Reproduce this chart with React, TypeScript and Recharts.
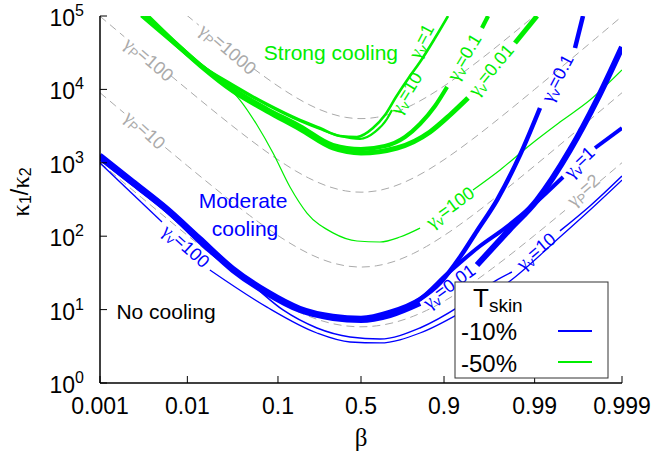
import React from 'react';
import { LineChart, Line, XAxis, YAxis, ReferenceDot } from 'recharts';

const BLUE = '#0000ff';
const GREEN = '#00ee00';
const GRAY = '#aaaaaa';
const SANS = '"Liberation Sans", Arial, Helvetica, sans-serif';
const SERIF = '"Liberation Serif", "Times New Roman", serif';

// ---- axis ticks ----
const xTickBetas = [0.001, 0.01, 0.1, 0.5, 0.9, 0.99, 0.999];
const xTickLabels = ['0.001', '0.01', '0.1', '0.5', '0.9', '0.99', '0.999'];
const yTicks = [1, 10, 100, 1000, 10000, 100000];
const yTickExponents = ['0', '1', '2', '3', '4', '5'];

// ---- gamma_P iso-curves (grey dashed): [beta, kappa1/kappa2] ----
const gp2A = [[0.001, 1003], [0.002, 503], [0.003, 336], [0.005, 203], [0.01, 103], [0.02, 53], [0.03, 36.4], [0.05, 23], [0.1, 13], [0.15, 9.74], [0.2, 8.13], [0.3, 6.61], [0.4, 6.0], [0.5, 5.83], [0.6, 6.0], [0.7, 6.61], [0.8, 8.13], [0.85, 9.74], [0.9, 13], [0.95, 23], [0.97, 36.4], [0.98, 53], [0.99, 103], [0.995, 203], [0.9955, 225]];
const gp2B = [[0.9982, 558], [0.999, 1003]];
const gp10A = [[0.001, 9011], [0.0015, 6011], [0.0019, 4749]];
const gp10B = [[0.0056, 1618], [0.01, 911], [0.02, 461], [0.03, 311], [0.05, 191], [0.1, 102], [0.15, 72.6], [0.2, 58.2], [0.3, 44.8], [0.4, 39.5], [0.5, 38], [0.6, 39.5], [0.7, 44.8], [0.8, 58.2], [0.85, 72.6], [0.9, 102], [0.95, 191], [0.97, 311], [0.98, 461], [0.99, 911], [0.995, 1811], [0.997, 3011], [0.998, 4511], [0.999, 9011]];
const gp100A = [[0.001, 99100], [0.0015, 66100], [0.0019, 52200]];
const gp100B = [[0.0065, 15330], [0.01, 10000], [0.02, 5050], [0.03, 3400], [0.05, 2085], [0.1, 1102], [0.15, 778], [0.2, 621], [0.3, 473], [0.4, 414], [0.5, 398], [0.6, 414], [0.7, 473], [0.8, 621], [0.85, 778], [0.9, 1102], [0.95, 2085], [0.97, 3400], [0.98, 5050], [0.99, 10000], [0.995, 19900], [0.997, 33100], [0.998, 49600], [0.999, 99100]];
const gp1000A = [[0.0098, 102900], [0.0115, 87900], [0.0135, 75000]];
const gp1000B = [[0.055, 19220], [0.07, 15350], [0.1, 11100], [0.15, 7840], [0.2, 6240], [0.3, 4760], [0.4, 4160], [0.5, 4000], [0.6, 4160], [0.7, 4760], [0.8, 6240], [0.85, 7840], [0.9, 11100], [0.93, 15350], [0.95, 21030], [0.97, 34300], [0.98, 51000], [0.99, 100900]];

// ---- Tskin -10% (blue) ----
const blue001A = [[0.001, 1200], [0.00239, 531], [0.00586, 228], [0.0139, 88.8], [0.0327, 34.6], [0.0767, 16.8], [0.166, 9.88], [0.3226, 7.69], [0.5, 7.22], [0.6828, 8.44], [0.8265, 12.3]];
const blue001B = [[0.9556, 40.5], [0.9805, 121], [0.99061, 311], [0.99605, 1490], [0.99806, 7170], [0.999, 37800]];
const blue01A = [[0.001, 1280], [0.00239, 565], [0.00586, 242], [0.0139, 94.5], [0.0327, 36.9], [0.0767, 17.9], [0.166, 10.5], [0.3226, 8.18], [0.5, 7.69], [0.6828, 9.27], [0.8265, 13.9], [0.89, 23.0], [0.9322, 52.1], [0.9556, 118], [0.9734, 311], [0.98536, 1280], [0.99131, 5580]];
const blue01B = [[0.99654, 36600], [0.9972, 100000]];
const blue1A = [[0.001, 1240], [0.00239, 547], [0.00586, 235], [0.0139, 91.6], [0.0327, 35.7], [0.0767, 17.4], [0.166, 10.2], [0.3226, 7.94], [0.5, 7.44], [0.6828, 8.99], [0.8265, 13.9], [0.907, 30.5], [0.9589, 73.5], [0.9784, 129], [0.98957, 266], [0.99526, 641]];
const blue1B = [[0.99796, 1590], [0.999, 2980]];
const blue10A = [[0.001, 1090], [0.00239, 483], [0.00586, 207], [0.018, 59.0], [0.0503, 23.0], [0.1126, 9.88], [0.2376, 5.62], [0.428, 4.24], [0.623, 3.97], [0.8265, 5.62], [0.9322, 11.2], [0.972, 24.5], [0.9819, 32.5]];
const blue10B = [[0.99486, 118], [0.99767, 258], [0.999, 661]];
const blue100A = [[0.001, 994], [0.00514, 156]];
const blue100B = [[0.018, 34.6], [0.0767, 10.8], [0.2376, 4.8], [0.428, 3.62], [0.623, 3.51], [0.8265, 4.8], [0.9322, 8.99], [0.981, 24.5], [0.99486, 97.5], [0.99767, 228], [0.999, 583]];

// ---- Tskin -50% (green) ----
const green001A = [[0.00346, 100000], [0.00704, 44200], [0.0143, 20800], [0.0327, 9510], [0.0767, 5080], [0.166, 2880], [0.3226, 1590], [0.5, 1360], [0.7218, 1590], [0.8613, 2630], [0.9134, 4480], [0.9444, 7640]];
const green001B = [[0.9833, 42900], [0.99061, 100000]];
const green01A = [[0.00328, 100000], [0.00668, 47100], [0.01355, 22200], [0.0327, 10100], [0.0767, 5410], [0.166, 3170], [0.3226, 1750], [0.5, 1540], [0.6536, 1690], [0.7622, 2250], [0.8265, 3380], [0.8764, 5940], [0.907, 10800]];
const green01B = [[0.9609, 68700], [0.9665, 100000]];
const green1 = [[0.00295, 100000], [0.00602, 48600], [0.0122, 24400], [0.0327, 11500], [0.0767, 6320], [0.166, 3830], [0.2525, 2980], [0.3647, 2320], [0.4735, 2250], [0.5787, 2980], [0.6536, 4480], [0.7162, 7870], [0.7852, 15200], [0.8265, 23600], [0.8764, 50100], [0.9091, 100000]];
const green10 = [[0.00311, 100000], [0.00634, 47100], [0.0129, 23600], [0.0327, 11100], [0.0767, 6130], [0.166, 3710], [0.2525, 2880], [0.3647, 2320], [0.4934, 2110], [0.5917, 2630], [0.6654, 3950], [0.6942, 5240]];
const green100A = [[0.00303, 100000], [0.00634, 47100], [0.0129, 22900], [0.0234, 13400], [0.0391, 7170], [0.06, 3270], [0.0888, 1360], [0.1325, 468], [0.193, 207], [0.3226, 111], [0.4735, 86.0], [0.623, 83.4], [0.7372, 97.5], [0.8265, 129]];
const green100B = [[0.9509, 426], [0.9754, 798], [0.98873, 1750], [0.99486, 3590], [0.99767, 7170], [0.999, 18400]];

// ---- label texts and anchors ----
const gammaLabels = [
  { b: 0.0287, k: 35500, sub: 'P', val: '1000', angle: 41, color: GRAY },
  { b: 0.00364, k: 25900, sub: 'P', val: '100', angle: 41, color: GRAY },
  { b: 0.00328, k: 2800, sub: 'P', val: '10', angle: 43, color: GRAY },
  { b: 0.9972, k: 426, sub: 'P', val: '2', angle: -41, color: GRAY },
  { b: 0.8306, k: 45600, sub: 'v', val: '1', angle: -62, color: GREEN },
  { b: 0.7668, k: 8930, sub: 'v', val: '10', angle: -58, color: GREEN },
  { b: 0.9385, k: 27600, sub: 'v', val: '0.1', angle: -59, color: GREEN },
  { b: 0.9689, k: 18400, sub: 'v', val: '0.01', angle: -50, color: GREEN },
  { b: 0.9134, k: 250, sub: 'v', val: '100', angle: -36, color: GREEN },
  { b: 0.00966, k: 73.5, sub: 'v', val: '100', angle: 42, color: BLUE },
  { b: 0.9112, k: 21.0, sub: 'v', val: '0.01', angle: -36, color: BLUE },
  { b: 0.99035, k: 62.9, sub: 'v', val: '10', angle: -40, color: BLUE },
  { b: 0.99689, k: 1026, sub: 'v', val: '1', angle: -44, color: BLUE },
  { b: 0.99445, k: 14300, sub: 'v', val: '0.1', angle: -62, color: BLUE },
];
const regionLabels = [
  { b: 0.311, k: 32300, text: 'Strong cooling', color: GREEN },
  { b: 0.0422, k: 311, text: 'Moderate', color: BLUE },
  { b: 0.0444, k: 129, text: 'cooling', color: BLUE },
  { b: 0.00571, k: 9.57, text: 'No cooling', color: '#000' },
];

const logit = (b: number) => Math.log10(b / (1 - b));
const rows = (pts: number[][]) => pts.map(([b, k]) => ({ x: logit(b), y: k }));
const xTicks = xTickBetas.map(logit);
const xDomain = [logit(0.001), logit(0.999)];

const DASH = '8 5';
const series = [
  { pts: gp2A, color: GRAY, width: 1, dash: DASH },
  { pts: gp2B, color: GRAY, width: 1, dash: DASH },
  { pts: gp10A, color: GRAY, width: 1, dash: DASH },
  { pts: gp10B, color: GRAY, width: 1, dash: DASH },
  { pts: gp100A, color: GRAY, width: 1, dash: DASH },
  { pts: gp100B, color: GRAY, width: 1, dash: DASH },
  { pts: gp1000A, color: GRAY, width: 1, dash: DASH },
  { pts: gp1000B, color: GRAY, width: 1, dash: DASH },
  { pts: green100A, color: GREEN, width: 1.2 },
  { pts: green100B, color: GREEN, width: 1.2 },
  { pts: green10, color: GREEN, width: 2.2 },
  { pts: green1, color: GREEN, width: 2.6 },
  { pts: green01A, color: GREEN, width: 4.2 },
  { pts: green01B, color: GREEN, width: 4.2 },
  { pts: green001A, color: GREEN, width: 5 },
  { pts: green001B, color: GREEN, width: 5 },
  { pts: blue100A, color: BLUE, width: 1.3 },
  { pts: blue100B, color: BLUE, width: 1.3 },
  { pts: blue10A, color: BLUE, width: 1.5 },
  { pts: blue10B, color: BLUE, width: 1.5 },
  { pts: blue1A, color: BLUE, width: 4 },
  { pts: blue1B, color: BLUE, width: 4 },
  { pts: blue01A, color: BLUE, width: 4.5 },
  { pts: blue01B, color: BLUE, width: 4.5 },
  { pts: blue001A, color: BLUE, width: 6 },
  { pts: blue001B, color: BLUE, width: 6 },
];

const BottomTick = (p: any) => (
  <g>
    <line x1={p.x} x2={p.x} y1={p.y} y2={p.y - 7} stroke="#000" strokeWidth={1} />
    <text x={p.x} y={p.y + 31} textAnchor="middle" fontSize={23} fontFamily={SANS} fill="#000">
      {xTickLabels[p.index]}
    </text>
  </g>
);
const TopTick = (p: any) => (
  <line x1={p.x} x2={p.x} y1={p.y} y2={p.y + 7} stroke="#000" strokeWidth={1} />
);
const LeftTick = (p: any) => (
  <g>
    <line x1={p.x} x2={p.x + 7} y1={p.y} y2={p.y} stroke="#000" strokeWidth={1} />
    <text x={p.x - 16} y={p.y + 10} textAnchor="end" fontSize={23} fontFamily={SANS} fill="#000">
      10<tspan fontSize={16} dy={-10}>{yTickExponents[p.index]}</tspan>
    </text>
  </g>
);
const RightTick = (p: any) => (
  <line x1={p.x} x2={p.x - 7} y1={p.y} y2={p.y} stroke="#000" strokeWidth={1} />
);

const GammaText = ({ cx, cy, a }: any) => {
  const s = 18;
  return (
    <text x={cx} y={cy} fill={a.color} fontSize={s} fontFamily={SANS} textAnchor="middle" dominantBaseline="central" transform={`rotate(${a.angle} ${cx} ${cy})`}>
      <tspan fontFamily={SERIF} fontSize={s + 1}>γ</tspan>
      <tspan fontSize={s * 0.72} dy={s * 0.28}>{a.sub}</tspan>
      <tspan dy={-s * 0.28}>={a.val}</tspan>
    </text>
  );
};

const AXIS_LINE = { stroke: '#000', strokeWidth: 1.5 };

export default function App() {
  return (
    <div style={{ position: 'absolute', left: 0, top: 0, width: 656, height: 466 }}>
      <LineChart width={656} height={466} margin={{ top: 16, right: 34, bottom: 0, left: 0 }}>
        <XAxis xAxisId={0} type="number" dataKey="x" domain={xDomain} ticks={xTicks} allowDataOverflow interval={0} height={83} tickSize={0} tickMargin={0} tickLine={false} axisLine={AXIS_LINE} tick={<BottomTick />} />
        <XAxis xAxisId="top" orientation="top" type="number" dataKey="x" domain={xDomain} ticks={xTicks} allowDataOverflow interval={0} height={0} tickSize={0} tickMargin={0} tickLine={false} axisLine={AXIS_LINE} tick={<TopTick />} />
        <YAxis yAxisId={0} type="number" scale="log" domain={[1, 100000]} ticks={yTicks} allowDataOverflow interval={0} width={100} tickSize={0} tickMargin={0} tickLine={false} axisLine={AXIS_LINE} tick={<LeftTick />} />
        <YAxis yAxisId="right" orientation="right" type="number" scale="log" domain={[1, 100000]} ticks={yTicks} allowDataOverflow interval={0} width={0} tickSize={0} tickMargin={0} tickLine={false} axisLine={AXIS_LINE} tick={<RightTick />} />
        {series.map((s, i) => (
          <Line key={i} data={rows(s.pts)} dataKey="y" type="monotone" stroke={s.color} strokeWidth={s.width} strokeDasharray={s.dash} dot={false} activeDot={false} isAnimationActive={false} />
        ))}
        {gammaLabels.map((a, i) => (
          <ReferenceDot key={'g' + i} x={logit(a.b)} y={a.k} r={1} ifOverflow="visible" shape={(p: any) => <GammaText cx={p.cx} cy={p.cy} a={a} />} />
        ))}
        {regionLabels.map((a, i) => (
          <ReferenceDot key={'r' + i} x={logit(a.b)} y={a.k} r={1} ifOverflow="visible" shape={(p: any) => (
            <text x={p.cx} y={p.cy} fill={a.color} fontSize={21} fontFamily={SANS} textAnchor="middle" dominantBaseline="central">{a.text}</text>
          )} />
        ))}
      </LineChart>
      <svg width={656} height={466} style={{ position: 'absolute', left: 0, top: 0, pointerEvents: 'none' }}>
        <text transform="translate(20,192) rotate(-90)" textAnchor="middle" dominantBaseline="central" fontSize={23} fontFamily={SANS} fill="#000">
          <tspan fontFamily={SERIF} fontSize={25}>κ</tspan>
          <tspan fontSize={16} dy={5}>1</tspan>
          <tspan dy={-5}>/</tspan>
          <tspan fontFamily={SERIF} fontSize={25}>κ</tspan>
          <tspan fontSize={16} dy={5}>2</tspan>
        </text>
        <text x={361} y={446} textAnchor="middle" fontSize={25} fontFamily={SERIF} fill="#000">β</text>
        <g fontFamily={SANS} fill="#000">
          <rect x={455} y={282} width={153} height={96} fill="#fff" stroke="#333" strokeWidth={1} />
          <text x={473} y={307} fontSize={26}>T<tspan fontSize={19} dy={5}>skin</tspan></text>
          <text x={461} y={340} fontSize={24}>-10%</text>
          <line x1={558} x2={592} y1={331} y2={331} stroke={BLUE} strokeWidth={2} />
          <text x={461} y={372} fontSize={24}>-50%</text>
          <line x1={558} x2={592} y1={362} y2={362} stroke={GREEN} strokeWidth={2} />
        </g>
      </svg>
    </div>
  );
}
